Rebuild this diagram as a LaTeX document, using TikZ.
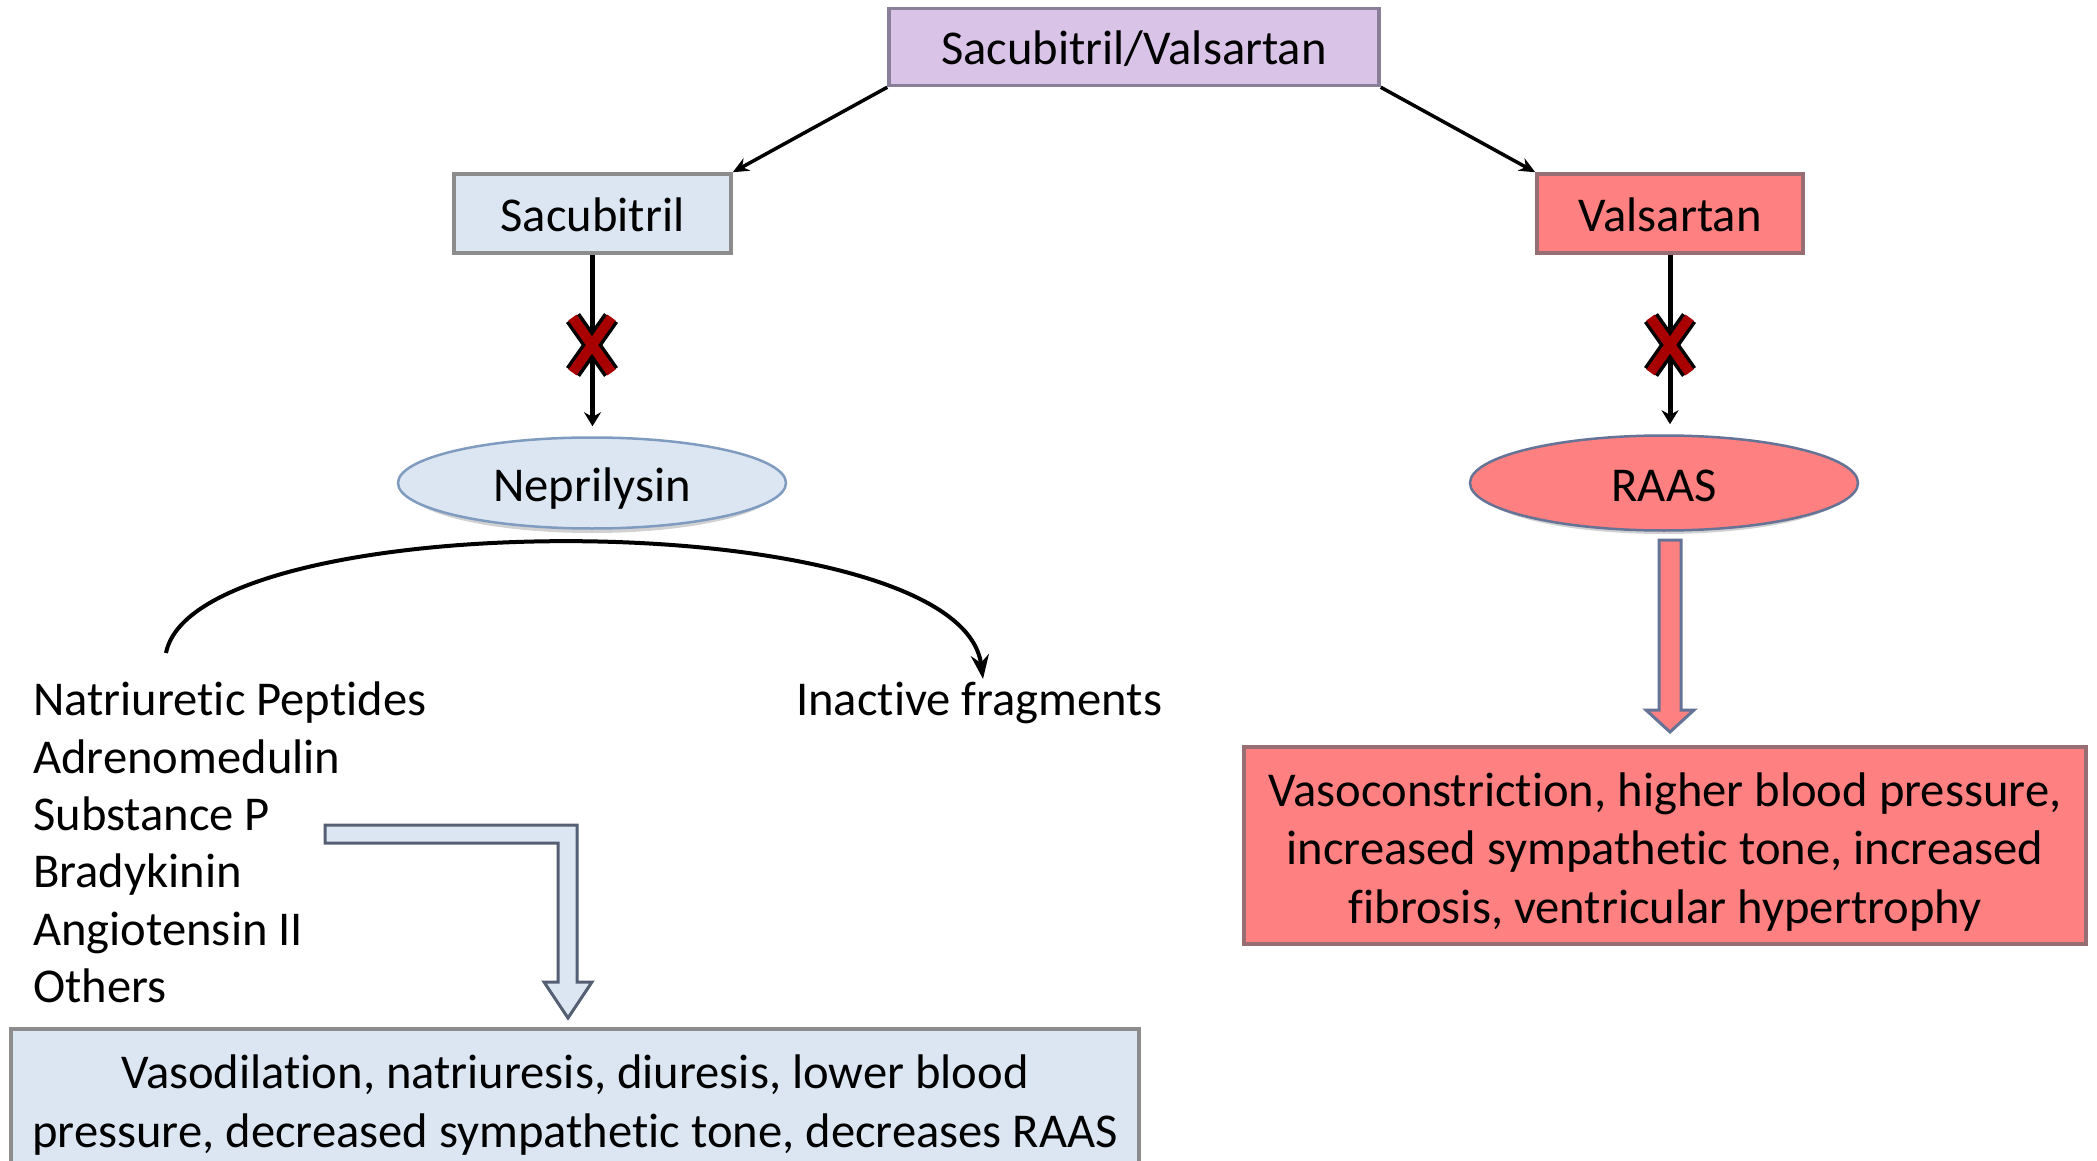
\documentclass[tikz,border=0pt]{standalone}
\usepackage{fontspec}
\setmainfont[Ligatures=CommonOff]{Carlito}
\usetikzlibrary{shapes.geometric,arrows.meta,calc}
\definecolor{lav}{RGB}{217,196,232}
\definecolor{lavline}{RGB}{138,127,153}
\definecolor{lblue}{RGB}{220,230,242}
\definecolor{salmon}{RGB}{255,128,128}
\definecolor{boxgray}{RGB}{140,140,140}
\definecolor{redgray}{RGB}{150,110,115}
\definecolor{ellline}{RGB}{127,156,192}
\definecolor{arrline}{RGB}{85,95,115}
\definecolor{rarrline}{RGB}{100,115,150}
\definecolor{xred}{RGB}{168,0,0}
\tikzset{
  base/.style={font=\fontsize{48.6}{58.5}\selectfont, inner sep=0pt},
  onel/.style={base, text height=42pt, text depth=6pt},
  txt/.style={base},
  topbox/.style={onel, rectangle, draw=lavline, fill=lav, line width=3.5pt},
  bbox/.style={onel, rectangle, draw=boxgray, fill=lblue, line width=3.5pt},
  rboxs/.style={onel, rectangle, draw=redgray, fill=salmon, line width=3.5pt},
  bell/.style={onel, ellipse, draw=ellline, fill=lblue, line width=2.5pt},
  rell/.style={onel, ellipse, draw=rarrline, fill=salmon, line width=2.5pt},
  effL/.style={base, rectangle, draw=boxgray, fill=lblue, line width=3.5pt, align=center},
  effR/.style={base, rectangle, draw=redgray, fill=salmon, line width=3.5pt, align=center},
  conn/.style={line width=3.5pt, -{Stealth[length=16pt,width=14pt]}},
  vconn/.style={line width=5pt, -{Stealth[length=14pt,width=17pt]}},
  curveconn/.style={line width=4pt, -{Stealth[length=24pt,width=18pt]}},
  shadowell/.style={fill=black, opacity=0.18},
}
\newcommand\crossmark[1]{%
  \draw[line width=17pt, black] ($(#1)+(-19,-27)$) -- ($(#1)+(19,27)$) ($(#1)+(19,-27)$) -- ($(#1)+(-19,27)$);
  \draw[line width=10pt, xred] ($(#1)+(-19.5,-27.5)$) -- ($(#1)+(19.5,27.5)$) ($(#1)+(19.5,-27.5)$) -- ($(#1)+(-19.5,27.5)$);
}
\begin{document}
\begin{tikzpicture}[x=1pt,y=-1pt]
\useasboundingbox (0,0) rectangle (2097,1161);
\clip (0,0) rectangle (2097,1161);
\fill[white] (0,0) rectangle (2097,1161);

% shadows under ellipses
\fill[shadowell] (592,488) ellipse [x radius=186pt, y radius=45pt];
\fill[shadowell] (1664,488) ellipse [x radius=186pt, y radius=46pt];

\node[topbox, minimum width=490pt, minimum height=77pt] (sv) at (1134,47) {Sacubitril/Valsartan};
\node[bbox, minimum width=277pt, minimum height=79pt] (sac) at (592.5,213.5) {Sacubitril};
\node[rboxs, minimum width=266pt, minimum height=79pt] (val) at (1670,213.5) {Valsartan};
\node[bell, minimum width=388pt, minimum height=91pt] (nep) at (592,483) {Neprilysin};
\node[rell, minimum width=388pt, minimum height=95pt] (raas) at (1664,483) {RAAS};

\draw[conn] (sv.south west) -- (sac.north east);
\draw[conn] (sv.south east) -- (val.north west);
\draw[vconn] (sac.south) -- ([yshift=10pt]sac.south |- nep.north);
\draw[vconn] (val.south) -- ([yshift=10pt]val.south |- raas.north);

\coordinate (xa) at (592,345);
\coordinate (xb) at (1670,345);
\crossmark{xa}
\crossmark{xb}

% substrate list
\node[txt, anchor=base west] (l1) at (33,715) {Natriuretic Peptides};
\node[txt, anchor=base west] (l2) at (33,773) {Adrenomedulin};
\node[txt, anchor=base west] (l3) at (33,830) {Substance P};
\node[txt, anchor=base west] (l4) at (33,887) {Bradykinin};
\node[txt, anchor=base west] (l5) at (33,945) {Angiotensin II};
\node[txt, anchor=base west] (l6) at (33,1002) {Others};
\node[txt, anchor=base west] (inact) at (796,715) {Inactive fragments};

\coordinate (cs) at (166,653);
\coordinate (ce) at (983,679);
\draw[curveconn] (cs) .. controls (196,502) and (960,502) .. (ce);

% effect boxes
\node[effL, minimum width=1128pt, minimum height=152pt] (effl) at (575,1105)
  {Vasodilation, natriuresis, diuresis, lower blood\\pressure, decreased sympathetic tone, decreases RAAS};
\node[effR, minimum width=842pt, minimum height=197pt] (effr) at (1665,845.5)
  {\rule{0pt}{46pt}Vasoconstriction, higher blood pressure,\\increased sympathetic tone, increased\\fibrosis, ventricular hypertrophy};

% hollow block arrows
\draw[line width=3pt, draw=arrline, fill=lblue, line join=miter]
  (325,825) -- (577,825) -- (577,982) -- (592,982) -- (568,1018) -- (544,982)
  -- (558,982) -- (558,843) -- (325,843) -- cycle;
\draw[line width=3pt, draw=rarrline, fill=salmon, line join=miter]
  (1659,540) -- (1681,540) -- (1681,710) -- (1694,710) -- (1670,732) -- (1646,710)
  -- (1659,710) -- cycle;
\end{tikzpicture}
\end{document}
